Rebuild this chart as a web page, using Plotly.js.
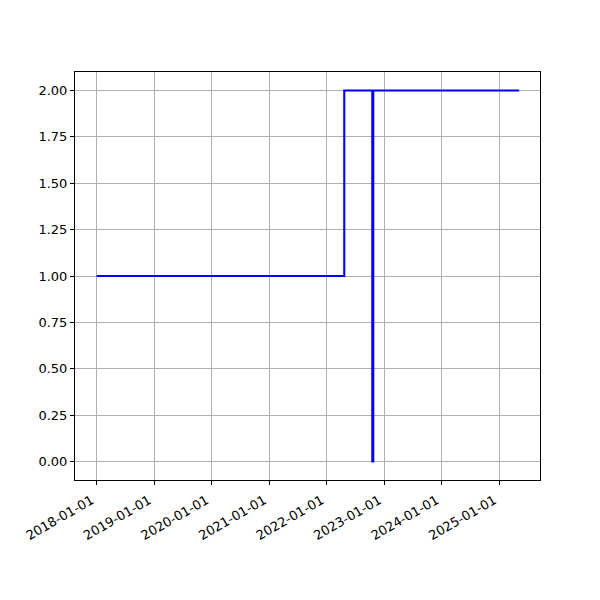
<!DOCTYPE html>
<html>
<head>
<meta charset="utf-8">
<script src="https://cdn.plot.ly/plotly-3.0.1.min.js"></script>
<style>html,body{margin:0;padding:0;background:#fff}#chart{width:600px;height:600px}</style>
</head>
<body>
<div id="chart"></div>
<script>
var dates = ['2018-01-01', '2022-04-23', '2022-10-18', '2022-10-24', '2025-05-08'];
var values = [1, 2, 0, 2, 2];
var xTicks = ['2018-01-01','2019-01-01','2020-01-01','2021-01-01','2022-01-01','2023-01-01','2024-01-01','2025-01-01'];
var yTicks = [0, 0.25, 0.5, 0.75, 1.0, 1.25, 1.5, 1.75, 2.0];

var trace = {
  x: dates, y: values, type: 'scatter', mode: 'lines',
  line: {shape: 'hv', color: '#0000ff', width: 2.1},
  hoverinfo: 'skip'
};

var axisCommon = {
  showline: true, linecolor: '#000', linewidth: 1, mirror: true,
  ticks: 'outside', ticklen: 4, tickcolor: '#000', tickwidth: 1,
  showgrid: true, gridcolor: '#b0b0b0', gridwidth: 1, zeroline: false,
  tickfont: {family: 'DejaVu Sans', size: 13, color: '#000'}
};

var layout = {
  width: 600, height: 600,
  margin: {l: 75, r: 60, t: 72, b: 120},
  paper_bgcolor: '#fff', plot_bgcolor: '#fff',
  showlegend: false,
  xaxis: Object.assign({}, axisCommon, {
    type: 'date', range: ['2017-08-17', '2025-09-17'],
    tickmode: 'array', tickvals: xTicks, ticktext: xTicks, tickangle: -30,
    ticklabelshift: -5, ticklabelstandoff: 3
  }),
  yaxis: Object.assign({}, axisCommon, {
    range: [-0.1, 2.1], tickmode: 'array', tickvals: yTicks,
    ticktext: yTicks.map(function(v){return v.toFixed(2);})
  })
};

Plotly.newPlot('chart', [trace], layout, {staticPlot: true, displayModeBar: false});
</script>
</body>
</html>
